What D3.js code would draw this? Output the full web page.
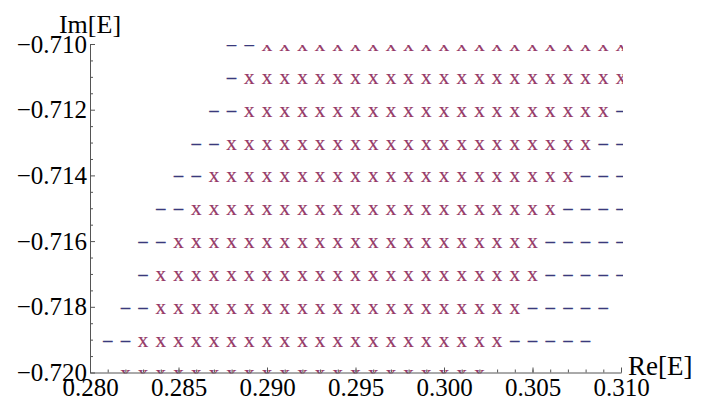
<!DOCTYPE html>
<html>
<head>
<meta charset="utf-8">
<script src="https://cdn.jsdelivr.net/npm/d3@7"></script>
<style>
  body { margin: 0; background: #fff; }
  svg { display: block; }
  text { font-family: "Liberation Serif", "Times New Roman", serif; }
</style>
</head>
<body>
<svg id="chart"></svg>
<script>
const width = 702;
const height = 406;

// Re[E] grid (one column per value) and Im[E] rows
const reValues = [0.280, 0.281, 0.282, 0.283, 0.284, 0.285, 0.286, 0.287, 0.288, 0.289,
                  0.290, 0.291, 0.292, 0.293, 0.294, 0.295, 0.296, 0.297, 0.298, 0.299,
                  0.300, 0.301, 0.302, 0.303, 0.304, 0.305, 0.306, 0.307, 0.308, 0.309, 0.310];
const imValues = [-0.710, -0.711, -0.712, -0.713, -0.714, -0.715, -0.716, -0.717, -0.718, -0.719, -0.720];

// one string per Im row, one char per Re column: "-" = dash marker, "x" = cross marker, "." = none
const rowMarks = [
    "........--xxxxxxxxxxxxxxxxxxxxx",
    "........-xxxxxxxxxxxxxxxxxxxxxx",
    ".......--xxxxxxxxxxxxxxxxxxxxx-",
    "......--xxxxxxxxxxxxxxxxxxxxx--",
    ".....--xxxxxxxxxxxxxxxxxxxxx---",
    "....--xxxxxxxxxxxxxxxxxxxxx----",
    "...--xxxxxxxxxxxxxxxxxxxxx-----",
    "...-xxxxxxxxxxxxxxxxxxxxxx-----",
    "..--xxxxxxxxxxxxxxxxxxxxx-----.",
    ".--xxxxxxxxxxxxxxxxxxxxx-----..",
    "..xxxxxxxxxxxxxxxxxxxxx........"
];

const xMajorTicks = [0.280, 0.285, 0.290, 0.295, 0.300, 0.305, 0.310];
const xTickLabels = ["0.280", "0.285", "0.290", "0.295", "0.300", "0.305", "0.310"];
const yMajorTicks = [-0.710, -0.712, -0.714, -0.716, -0.718, -0.720];
const yTickLabels = ["\u22120.710", "\u22120.712", "\u22120.714", "\u22120.716", "\u22120.718", "\u22120.720"];
const yMinorTicks = [-0.7105, -0.711, -0.7115, -0.7125, -0.713, -0.7135, -0.7145, -0.715, -0.7155,
                     -0.7165, -0.717, -0.7175, -0.7185, -0.719, -0.7195];

const dashColor = "#3a3a7c";
const crossColor = "#963a68";

const dashPoints = [];
const crossPoints = [];
rowMarks.forEach((row, i) => {
    row.split("").forEach((c, j) => {
        if (c === "-") dashPoints.push({ re: reValues[j], im: imValues[i] });
        if (c === "x") crossPoints.push({ re: reValues[j], im: imValues[i] });
    });
});

const x = d3.scaleLinear().domain([0.280, 0.310]).range([90, 621]);
const y = d3.scaleLinear().domain([-0.720, -0.710]).range([372.5, 44]);

const svg = d3.select("#chart")
    .attr("width", width)
    .attr("height", height);

svg.append("rect")
    .attr("width", width)
    .attr("height", height)
    .attr("fill", "#fff");

// plot range clip: the top and bottom rows are cut in half like the original
svg.append("clipPath")
    .attr("id", "plot-clip")
    .append("rect")
    .attr("x", 89)
    .attr("y", 45)
    .attr("width", 534)
    .attr("height", 328.5);

const marks = svg.append("g").attr("clip-path", "url(#plot-clip)");

marks.append("g")
    .selectAll("text")
    .data(dashPoints)
    .enter().append("text")
    .attr("x", d => x(d.re))
    .attr("y", d => y(d.im))
    .attr("dy", "0.335em")
    .attr("text-anchor", "middle")
    .attr("font-size", 18)
    .attr("fill", dashColor)
    .attr("stroke", dashColor)
    .attr("stroke-width", 0.5)
    .text("\u2013");

marks.append("g")
    .selectAll("text")
    .data(crossPoints)
    .enter().append("text")
    .attr("x", d => x(d.re))
    .attr("y", d => y(d.im))
    .attr("dy", "0.335em")
    .attr("text-anchor", "middle")
    .attr("font-size", 21)
    .attr("fill", crossColor)
    .attr("stroke", crossColor)
    .attr("stroke-width", 0.2)
    .text("x");

// axes
const axisColor = "#555";

const xMinor = svg.append("g")
    .attr("transform", `translate(0,${y(-0.720)})`)
    .call(d3.axisBottom(x).tickValues(reValues).tickSize(-3).tickSizeOuter(0).tickFormat(""));
xMinor.select(".domain").remove();

svg.append("g")
    .attr("transform", `translate(0,${y(-0.720)})`)
    .call(d3.axisBottom(x)
        .tickValues(xMajorTicks)
        .tickSize(-5)
        .tickSizeOuter(0)
        .tickPadding(6)
        .tickFormat((d, i) => xTickLabels[i]));

const yMinor = svg.append("g")
    .attr("transform", `translate(${x(0.280)},0)`)
    .call(d3.axisLeft(y).tickValues(yMinorTicks).tickSize(-3).tickSizeOuter(0).tickFormat(""));
yMinor.select(".domain").remove();

svg.append("g")
    .attr("transform", `translate(${x(0.280)},0)`)
    .call(d3.axisLeft(y)
        .tickValues(yMajorTicks)
        .tickSize(-5)
        .tickSizeOuter(0)
        .tickPadding(3)
        .tickFormat((d, i) => yTickLabels[i]));

svg.selectAll(".domain, .tick line")
    .attr("stroke", axisColor)
    .attr("stroke-width", 1);

svg.selectAll(".tick text")
    .attr("font-size", 25)
    .attr("fill", "#000");

// axis labels
svg.append("text")
    .attr("x", x(0.280))
    .attr("y", 33)
    .attr("text-anchor", "middle")
    .attr("font-size", 26)
    .text("Im[E]");

svg.append("text")
    .attr("x", 628)
    .attr("y", 375)
    .attr("font-size", 27)
    .text("Re[E]");
</script>
</body>
</html>
